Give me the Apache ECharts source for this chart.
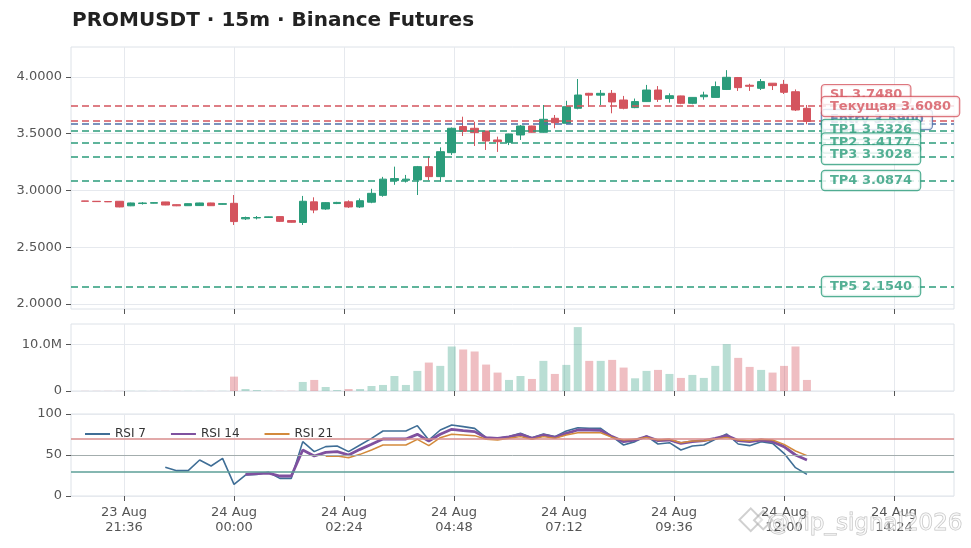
<!DOCTYPE html>
<html><head><meta charset="utf-8">
<script src="https://cdn.jsdelivr.net/npm/echarts@6/dist/echarts.min.js"></script>
<style>html,body{margin:0;padding:0;background:#fff}#c{width:971px;height:548px}</style>
</head><body><div id="c"></div>
<script>
// 15m candle times (23 Aug 20:45 .. 24 Aug 12:30)
const times = ["20:45","21:00","21:15","21:30","21:45","22:00","22:15","22:30","22:45","23:00","23:15","23:30","23:45",
"00:00","00:15","00:30","00:45","01:00","01:15","01:30","01:45","02:00","02:15","02:30","02:45","03:00","03:15","03:30","03:45",
"04:00","04:15","04:30","04:45","05:00","05:15","05:30","05:45","06:00","06:15","06:30","06:45","07:00","07:15","07:30","07:45",
"08:00","08:15","08:30","08:45","09:00","09:15","09:30","09:45","10:00","10:15","10:30","10:45","11:00","11:15","11:30","11:45",
"12:00","12:15","12:30"];
// [open, close, low, high]
const candles = [
[2.908,2.905,2.903,2.909],[2.905,2.902,2.900,2.907],[2.903,2.900,2.898,2.905],[2.905,2.855,2.852,2.907],
[2.865,2.890,2.862,2.893],[2.885,2.890,2.876,2.898],[2.888,2.893,2.886,2.895],[2.899,2.872,2.870,2.900],
[2.875,2.865,2.862,2.877],[2.866,2.884,2.864,2.886],[2.867,2.890,2.865,2.892],[2.890,2.866,2.864,2.892],
[2.878,2.884,2.876,2.886],[2.887,2.726,2.696,2.960],[2.750,2.762,2.740,2.770],[2.758,2.762,2.745,2.775],
[2.762,2.768,2.760,2.770],[2.770,2.728,2.722,2.773],[2.735,2.720,2.717,2.738],[2.718,2.905,2.696,2.952],
[2.900,2.828,2.800,2.940],[2.837,2.893,2.830,2.897],[2.885,2.895,2.880,2.900],[2.900,2.855,2.846,2.913],
[2.855,2.910,2.846,2.930],[2.897,2.975,2.888,3.015],[2.957,3.100,2.945,3.120],[3.087,3.105,3.050,3.210],
[3.090,3.100,3.070,3.137],[3.093,3.210,2.960,3.216],[3.210,3.122,3.090,3.300],[3.122,3.342,3.078,3.380],
[3.333,3.548,3.313,3.555],[3.563,3.520,3.480,3.650],[3.548,3.510,3.392,3.606],[3.524,3.436,3.357,3.526],
[3.445,3.430,3.340,3.474],[3.424,3.498,3.400,3.500],[3.489,3.568,3.445,3.577],[3.568,3.513,3.510,3.570],
[3.513,3.627,3.510,3.753],[3.636,3.597,3.548,3.665],[3.592,3.738,3.590,3.790],[3.724,3.841,3.715,3.982],
[3.856,3.840,3.738,3.860],[3.840,3.856,3.753,3.885],[3.856,3.780,3.680,3.885],[3.797,3.724,3.715,3.833],
[3.730,3.783,3.725,3.810],[3.783,3.885,3.780,3.930],[3.885,3.803,3.780,3.920],[3.810,3.835,3.774,3.856],
[3.833,3.768,3.760,3.835],[3.768,3.820,3.760,3.822],[3.826,3.841,3.800,3.870],[3.820,3.915,3.820,3.960],
[3.890,3.997,3.885,4.060],[3.995,3.906,3.877,4.000],[3.927,3.918,3.877,3.940],[3.900,3.959,3.885,3.982],
[3.945,3.924,3.885,3.946],[3.935,3.865,3.850,3.974],[3.870,3.709,3.700,3.890],[3.724,3.608,3.583,3.753]
];
// volume, millions
const volumeM = [0.03,0.03,0.03,0.03,0.03,0.03,0.03,0.03,0.03,0.03,0.03,0.03,0.03,
3.07,0.43,0.20,0.05,0.05,0.05,1.93,2.36,0.86,0.20,0.43,0.43,1.07,1.29,3.20,1.29,4.29,6.07,5.36,9.50,8.86,8.43,5.64,3.93,2.36,
3.20,2.57,6.43,3.64,5.57,13.64,6.43,6.43,6.64,5.00,2.71,4.29,4.50,3.64,2.79,3.43,2.79,5.36,10.00,7.07,5.14,4.50,3.93,5.36,9.50,2.36];
const rsi7 = [null,null,null,null,null,null,null,
35,30.9,30.9,43.9,36.6,45.9,14.2,25.6,26.4,28.9,21.5,21.5,66.3,54.1,60.2,61,54.1,62.2,70.3,79.3,79.3,79.3,85.8,68.3,80.5,86.6,84.6,82.5,71.1,70.3,72.4,76.4,
71.1,75.6,72.4,79.3,83.3,82.5,82.5,72.4,62.2,66.3,73.2,63.4,65,56.1,61,62.2,69.1,75.6,63.4,61.4,66.3,64.2,52,34.6,26.4];
const rsi14 = [null,null,null,null,null,null,null,null,null,null,null,null,null,null,
26.4,27.2,28,24.4,24.4,56.1,48.8,53.3,54.1,50,56.9,63,69.5,69.5,69.5,75.2,67.1,75.2,81.3,79.7,78.5,71.1,70.3,72,75.2,
70.3,74.4,71.5,76.4,80.5,80.5,80,72.4,66.3,68.3,72.4,67.5,68.3,64.2,66.3,67.5,70.3,73.6,67.5,66.3,68.3,66.3,60.2,50,43.9];
const rsi21 = [null,null,null,null,null,null,null,null,null,null,null,null,null,null,null,null,null,null,null,null,null,
48.4,48.8,46.7,50.8,56.1,62.2,62.2,62.2,69.1,61.4,71.1,75.2,74.4,73.6,69.1,68.3,70.3,72.4,
69.1,72.4,70.3,74.4,77.2,77.2,77.2,71.5,68.3,69.1,71.5,68.3,69.1,65,67.1,67.5,69.5,71.5,68.3,67.5,69.1,68.3,63,54.9,49.2];
const levelNames  = ["SL","Entry","Текущая","TP1","TP2","TP3","TP4","TP5"];
const levelValues = [3.748,3.59,3.608,3.5326,3.4177,3.3028,3.0874,2.154];
const levelKinds  = ["red","blue","red","green","green","green","green","green"];
const levelShift  = [-11,-4,-15,-0.5,0,-1.5,0,0];
const xTickLabels = ["23 Aug\n21:36","24 Aug\n00:00","24 Aug\n02:24","24 Aug\n04:48","24 Aug\n07:12","24 Aug\n09:36","24 Aug\n12:00","24 Aug\n14:24"];
const xTickTimes  = ["21:36","00:00","02:24","04:48","07:12","09:36","12:00","14:24"];
const priceTicks = [2.0,2.5,3.0,3.5,4.0];
const volTicks = [0,10e6];

const GREEN='#2b9c7b', RED='#d4545e', BLUE='#4f6fa8';
const COL={red:RED,green:GREEN,blue:BLUE};
const toMin = s => { const [h,m]=s.split(':').map(Number); return h*60+m+(h>=20?0:1440); };
const tm = times.map(toMin);
const tickMin = xTickTimes.map(toMin);
const X_MIN=1226.6, X_MAX=2382.5;
const FONT='DejaVu Sans';

const gridDefs=[{top:47,height:262},{top:324,height:67},{top:414,height:82}];
const grid=gridDefs.map(g=>({left:71,right:17,top:g.top,height:g.height,show:true,borderColor:'#dde2e8',borderWidth:1,backgroundColor:'#fff'}));
const xAxis=[0,1,2].map(i=>({
  type:'value',gridIndex:i,min:X_MIN,max:X_MAX,
  axisLine:{show:false},
  axisTick:{show:true,length:5,customValues:tickMin,lineStyle:{color:'#555'}},
  axisLabel:{show:i===2,customValues:tickMin,color:'#555',fontSize:13,lineHeight:15,margin:9,fontFamily:FONT,
    formatter:v=>{const k=tickMin.indexOf(v);return k>=0?xTickLabels[k]:'';}},
  splitLine:{show:true,lineStyle:{color:'#e6e9ee',width:1}}
}));
const yBase={type:'value',axisLine:{show:false},axisTick:{show:true,length:5,lineStyle:{color:'#555'}},
  splitLine:{show:true,lineStyle:{color:'#e6e9ee',width:1}}};
const yAxis=[
  Object.assign({},yBase,{gridIndex:0,min:1.956,max:4.264,axisTick:{show:true,length:5,customValues:priceTicks,lineStyle:{color:'#555'}},
    axisLabel:{customValues:priceTicks,formatter:v=>v.toFixed(4),color:'#555',fontSize:13,margin:9,fontFamily:FONT}}),
  Object.assign({},yBase,{gridIndex:1,min:0,max:14.3e6,axisTick:{show:true,length:5,customValues:volTicks,lineStyle:{color:'#555'}},
    axisLabel:{customValues:volTicks,formatter:v=>v===0?'0':(v/1e6).toFixed(1)+'M',color:'#555',fontSize:13,margin:9,fontFamily:FONT}}),
  Object.assign({},yBase,{gridIndex:2,min:0,max:100,interval:50,
    axisLabel:{color:'#555',fontSize:13,margin:9,fontFamily:FONT}})
];
const dash=[7,4];
const series=[
  {type:'candlestick',name:'price',xAxisIndex:0,yAxisIndex:0,barWidth:8,
   dimensions:['t','open','close','low','high'],encode:{x:'t',y:['open','close','low','high']},
   data:candles.map((c,i)=>[tm[i],c[0],c[1],c[2],c[3]]),
   itemStyle:{color:GREEN,color0:RED,borderColor:GREEN,borderColor0:RED,borderWidth:1},
   markLine:{silent:true,symbol:['none','none'],label:{show:false},animation:false,
     data:levelValues.map((v,k)=>({yAxis:v,lineStyle:{color:COL[levelKinds[k]],type:dash,width:1.6}}))}
  },
  {type:'scatter',name:'levels',xAxisIndex:0,yAxisIndex:0,symbolSize:0,silent:true,z:5,
   data:levelValues.map((v,k)=>({value:[tm[tm.length-1],v],label:{show:true,position:'right',distance:15,offset:[0,levelShift[k]],
     formatter:levelNames[k]+' '+v.toFixed(4),color:COL[levelKinds[k]],fontWeight:'bold',fontSize:13,fontFamily:FONT,lineHeight:15,
     backgroundColor:'#fff',borderColor:COL[levelKinds[k]],borderWidth:1.2,borderRadius:3,padding:[2,8,2,8]}}))
  },
  {type:'bar',name:'volume',xAxisIndex:1,yAxisIndex:1,barWidth:8,
   data:volumeM.map((v,i)=>({value:[tm[i],v*1e6],itemStyle:{color:candles[i][1]>=candles[i][0]?'rgba(43,156,123,0.33)':'rgba(212,84,94,0.38)'}}))},
  {type:'line',name:'RSI 7',xAxisIndex:2,yAxisIndex:2,symbol:'none',data:rsi7.map((v,i)=>[tm[i],v]),
   lineStyle:{color:'#3f6e96',width:1.6},itemStyle:{color:'#3f6e96'},
   markLine:{silent:true,symbol:['none','none'],label:{show:false},animation:false,
     data:[{yAxis:70,lineStyle:{color:'#d88c8c',type:'solid',width:1.5}},{yAxis:50,lineStyle:{color:'#a3adad',type:'solid',width:1}},{yAxis:30,lineStyle:{color:'#5d9f97',type:'solid',width:1.5}}]}},
  {type:'line',name:'RSI 14',xAxisIndex:2,yAxisIndex:2,symbol:'none',data:rsi14.map((v,i)=>[tm[i],v]),
   lineStyle:{color:'#7f519f',width:2.8},itemStyle:{color:'#7f519f'}},
  {type:'line',name:'RSI 21',xAxisIndex:2,yAxisIndex:2,symbol:'none',data:rsi21.map((v,i)=>[tm[i],v]),
   lineStyle:{color:'#d38a3c',width:1.5},itemStyle:{color:'#d38a3c'}}
];
const chart=echarts.init(document.getElementById('c'),null,{renderer:'canvas'});
chart.setOption({
  animation:false,backgroundColor:'#fff',
  textStyle:{fontFamily:FONT},
  title:{text:'PROMUSDT · 15m · Binance Futures',left:72,top:11,padding:0,
    textStyle:{fontFamily:FONT,fontWeight:'bold',fontSize:20,color:'#222'}},
  legend:{data:['RSI 7','RSI 14','RSI 21'],left:79,top:423,itemWidth:25,itemHeight:12,itemGap:24,
    itemStyle:{color:'rgba(0,0,0,0)',borderColor:'rgba(0,0,0,0)',borderWidth:0,opacity:0},
    textStyle:{fontFamily:FONT,fontSize:12,color:'#333'}},
  grid,xAxis,yAxis,series,
  graphic:[
    {type:'group',left:738,top:507,silent:true,z:100,children:[
      {type:'rect',shape:{x:6,y:6,width:16,height:16},rotation:Math.PI/4,originX:14,originY:14,
       style:{fill:'rgba(255,255,255,0.4)',stroke:'rgba(170,170,170,0.55)',lineWidth:2}},
      {type:'rect',shape:{x:20,y:8,width:13,height:13},rotation:Math.PI/4,originX:26.5,originY:14.5,
       style:{fill:'rgba(255,255,255,0.4)',stroke:'rgba(170,170,170,0.55)',lineWidth:2}}
    ]},
    {type:'text',right:8,bottom:12,silent:true,z:100,
    style:{text:'@vip_signal2026',font:'23px "DejaVu Sans"',fill:'rgba(255,255,255,0.55)',stroke:'rgba(150,150,150,0.6)',lineWidth:1}}]
});
</script></body></html>
